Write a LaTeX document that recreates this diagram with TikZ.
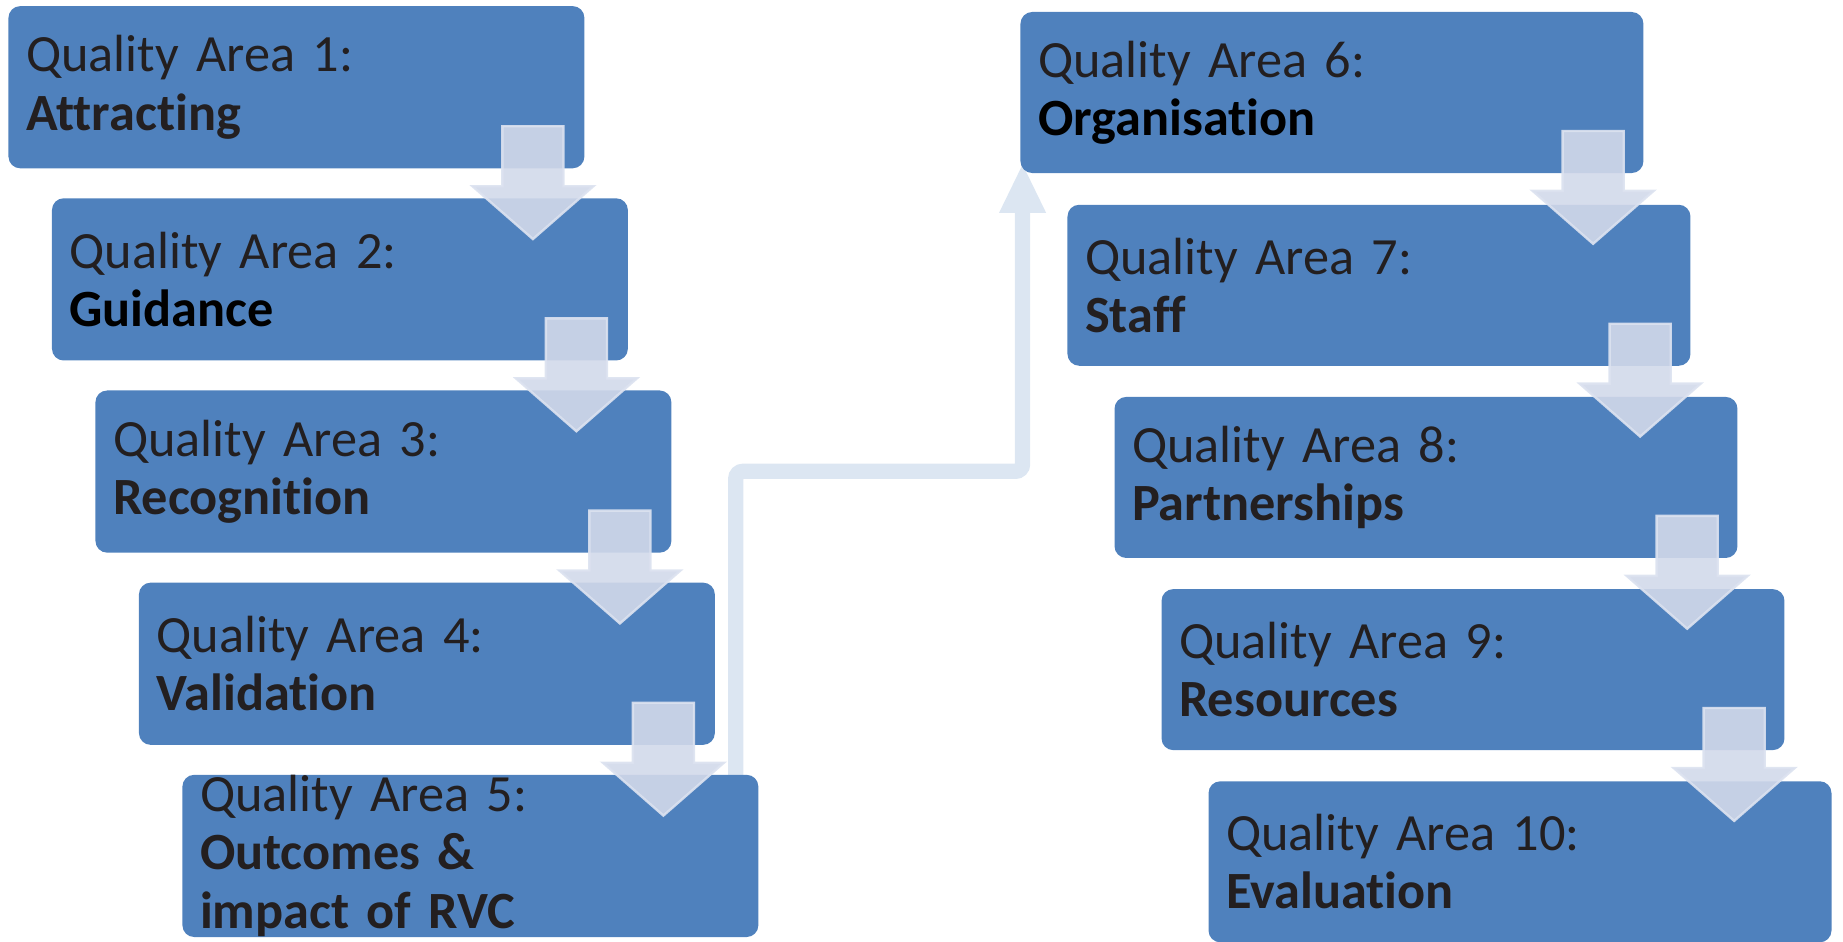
\documentclass[tikz,border=0pt]{standalone}
\usepackage{fontspec}
\setmainfont[Ligatures={NoCommon},WordSpace=0.7]{Carlito}
\usetikzlibrary{calc,arrows.meta}
\definecolor{qblue}{HTML}{4F81BD}
\definecolor{qtext}{HTML}{231F20}
\definecolor{arrfill}{RGB}{210,217,234}
\definecolor{arrdraw}{RGB}{220,226,240}
\definecolor{connc}{HTML}{DCE6F2}
\tikzset{
  qbox/.style={fill=qblue, draw=none, rounded corners=10pt, anchor=north west,
    minimum height=138pt, inner xsep=15pt, inner ysep=0pt, align=left,
    text=qtext, font=\fontsize{44.5}{49.5}\selectfont},
  lbox/.style={qbox, text width=460pt},
  rbox/.style={qbox, text width=500pt, minimum height=137pt},
  arrshape/.style={fill=arrfill, fill opacity=0.9, draw=arrdraw, draw opacity=0.9, line width=2pt, line join=miter},
  blockarr/.pic={\path[arrshape] (-26,0) -- (26,0) -- (26,51) -- (51.5,51) -- (0,96) -- (-51.5,51) -- (-26,51) -- cycle;},
  conn/.style={draw=connc, line width=13pt, rounded corners=6pt}
}
\begin{document}
\begin{tikzpicture}[x=1pt,y=-1pt]
\useasboundingbox (0,0) rectangle (1568,801);
% connector (drawn first, behind boxes)
\coordinate (cstart) at (626,662);
\coordinate (cmid) at (626,401);
\coordinate (cend) at (870,181);
\coordinate (ctip) at (870,140);
\draw[conn] (cstart) -- (cmid) -| (cend);
\fill[connc] ($(cend)+(-20,0)$) -- ($(cend)+(20,0)$) -- (ctip) -- cycle;
% left column
\node[lbox] (b1) at (7,5) {Quality Area 1:\\\textbf{Attracting}};
\node[lbox] (b2) at (44,168.5) {Quality Area 2:\\\textbf{\color{black}Guidance}};
\node[lbox] (b3) at (81,332) {Quality Area 3:\\\textbf{Recognition}};
\node[lbox] (b4) at (118,495.5) {Quality Area 4:\\\textbf{Validation}};
\node[lbox] (b5) at (155,659) {Quality Area 5:\\\textbf{Outcomes \&}\\\textbf{impact of RVC}};
% right column
\node[rbox] (b6) at (868,10) {Quality Area 6:\\\textbf{\color{black}Organisation}};
\node[rbox] (b7) at (908,174) {Quality Area 7:\\\textbf{Staff}};
\node[rbox] (b8) at (948,337.5) {Quality Area 8:\\\textbf{Partnerships}};
\node[rbox] (b9) at (988,501) {Quality Area 9:\\\textbf{Resources}};
\node[rbox] (b10) at (1028,664.5) {Quality Area 10:\\\textbf{Evaluation}};
% block arrows
\foreach \b in {b1,b2,b3,b4}{
  \pic at ($(\b.south east)+(-44,-36)$) {blockarr};
}
\foreach \b in {b6,b7,b8,b9}{
  \pic at ($(\b.south east)+(-43,-36)$) {blockarr};
}
\end{tikzpicture}
\end{document}
